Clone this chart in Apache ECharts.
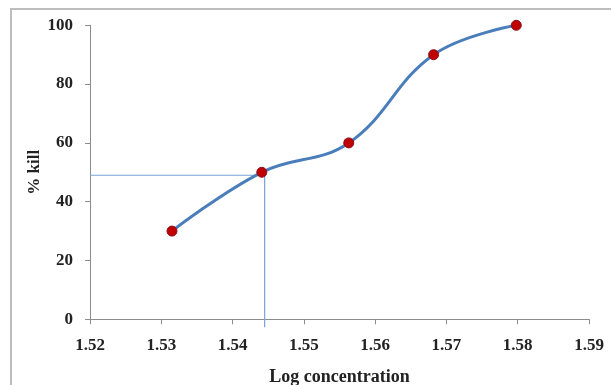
<!DOCTYPE html>
<html>
<head>
<meta charset="utf-8">
<script src="https://cdn.jsdelivr.net/npm/echarts@6/dist/echarts.min.js"></script>
<style>
  html, body { margin: 0; padding: 0; background: #fff; }
  #chart { width: 611px; height: 385px; }
</style>
</head>
<body>
<div id="chart"></div>
<script>
// Dose-response data: log concentration vs percentage kill
const logConcentration = [1.5315, 1.5441, 1.5563, 1.5682, 1.5798];
const percentKill = [30, 50, 60, 90, 100];

// LC50 read-off guide: across from the y axis at 49 %, then down to the x axis
const guideX = [1.52, 1.5445, 1.5445];
const guideY = [49, 49, -2.7];

const xTicks = [1.52, 1.53, 1.54, 1.55, 1.56, 1.57, 1.58, 1.59];
const yTicks = [0, 20, 40, 60, 80, 100];

const serif = '"Liberation Serif", "DejaVu Serif", serif';

const chart = echarts.init(document.getElementById('chart'), null, { renderer: 'canvas' });

chart.setOption({
  animation: false,
  backgroundColor: '#ffffff',
  grid: { left: 90, right: 22, top: 25.3, bottom: 65.7, containLabel: false, outerBoundsMode: 'none' },
  xAxis: {
    type: 'value',
    min: xTicks[0],
    max: xTicks[xTicks.length - 1],
    interval: 0.01,
    name: 'Log concentration',
    nameLocation: 'middle',
    nameGap: 49,
    nameMoveOverlap: false,
    nameTextStyle: { fontFamily: serif, fontWeight: 'bold', fontSize: 18, color: '#222' },
    axisLine: { lineStyle: { color: '#8c8c8c', width: 1 } },
    axisTick: { show: true, length: 5, lineStyle: { color: '#8c8c8c' } },
    axisLabel: {
      fontFamily: serif, fontWeight: 'bold', fontSize: 17, color: '#222', margin: 18,
      formatter: v => v.toFixed(2)
    },
    splitLine: { show: false }
  },
  yAxis: {
    type: 'value',
    min: yTicks[0],
    max: yTicks[yTicks.length - 1],
    interval: 20,
    name: '% kill',
    nameLocation: 'middle',
    nameGap: 47,
    nameMoveOverlap: false,
    nameRotate: 90,
    nameTextStyle: { fontFamily: serif, fontWeight: 'bold', fontSize: 17, color: '#222' },
    axisLine: { show: true, lineStyle: { color: '#8c8c8c', width: 1 } },
    axisTick: { show: true, length: 5, lineStyle: { color: '#8c8c8c' } },
    axisLabel: { fontFamily: serif, fontWeight: 'bold', fontSize: 17, color: '#222', margin: 17 },
    splitLine: { show: false }
  },
  graphic: [{
    type: 'polyline',
    shape: { points: [[11, 385], [11, 9], [611, 9]] },
    style: { stroke: '#bdbdbd', lineWidth: 2, fill: null },
    silent: true
  }],
  series: [
    {
      type: 'line',
      data: guideX.map((x, i) => [x, guideY[i]]),
      showSymbol: false,
      symbol: 'none',
      clip: false,
      lineStyle: { color: '#7aa3d6', width: 1.2 },
      z: 1
    },
    {
      type: 'line',
      data: logConcentration.map((x, i) => [x, percentKill[i]]),
      smooth: 0.4,
      symbol: 'circle',
      symbolSize: 10,
      lineStyle: { color: '#4a7ebb', width: 3 },
      itemStyle: { color: '#c00000', borderColor: '#8a1020', borderWidth: 1 },
      z: 3
    }
  ]
});
</script>
</body>
</html>
